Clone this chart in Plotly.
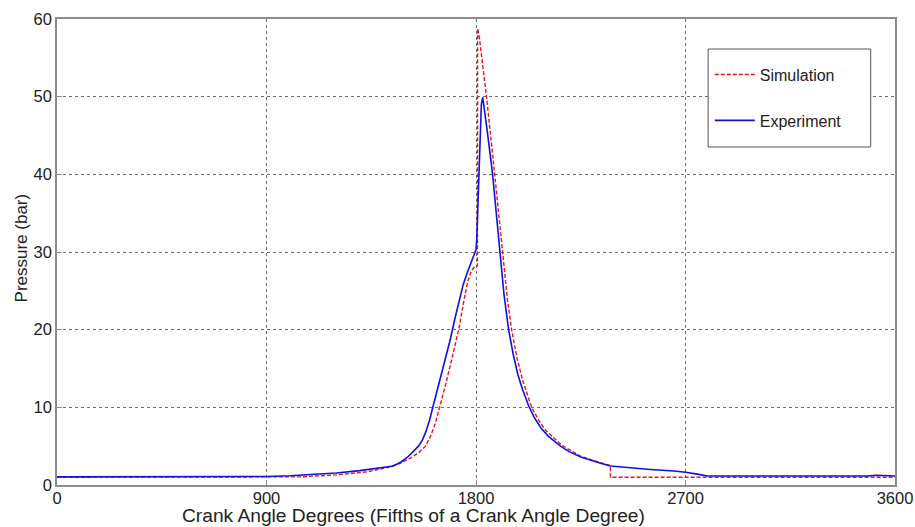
import plotly.graph_objects as go

# Experiment (crank angle in fifths of a degree, pressure in bar)
exp_x = [0, 300, 600, 900, 1000, 1100, 1200, 1300, 1380, 1445, 1480, 1510, 1530, 1553, 1570, 1585,
         1600, 1615, 1630, 1650, 1670, 1690, 1710, 1729, 1745, 1763, 1785, 1800, 1803, 1806, 1811,
         1818, 1823, 1829, 1836, 1849, 1871, 1901, 1920, 1940, 1960, 1980, 2000, 2026, 2050, 2080,
         2110, 2163, 2200, 2250, 2300, 2335, 2378, 2450, 2550, 2650, 2700, 2750, 2795, 3000, 3300,
         3480, 3520, 3560, 3600]
exp_y = [1.05, 1.05, 1.05, 1.1, 1.2, 1.35, 1.55, 1.85, 2.15, 2.45, 3.0, 3.7, 4.3, 5.0, 5.8, 6.9,
         8.3, 10.0, 11.7, 14.0, 16.4, 18.8, 21.5, 23.9, 25.8, 27.4, 29.2, 30.3, 31.5, 34.0, 39.3,
         46.0, 49.0, 49.9, 48.5, 45.4, 40.1, 30.1, 24.6, 20.0, 16.8, 14.2, 12.3, 10.2, 8.7, 7.3,
         6.3, 5.0, 4.3, 3.6, 3.1, 2.8, 2.45, 2.25, 2.0, 1.8, 1.65, 1.4, 1.15, 1.15, 1.15,
         1.15, 1.25, 1.2, 1.15]

# Simulation
sim_x = [0, 300, 600, 900, 1045, 1200, 1333, 1420, 1475, 1520, 1555, 1583, 1605, 1625, 1643, 1670,
         1700, 1729, 1746, 1763, 1780, 1794, 1806, 1807, 1815, 1825, 1845, 1880, 1914, 1935, 1953,
         1975, 2000, 2039, 2070, 2100, 2170, 2250, 2300, 2377, 2378, 2700, 3000, 3300, 3600]
sim_y = [1.0, 1.0, 1.0, 1.0, 1.05, 1.3, 1.7, 2.25, 2.8, 3.5, 4.2, 5.0, 6.3, 7.9, 9.8, 13.0,
         16.7, 20.5, 23.4, 26.0, 27.6, 28.1, 28.2, 58.8, 57.5, 55.0, 50.0, 40.1, 30.1, 23.9, 20.0,
         16.5, 13.5, 10.0, 8.3, 7.0, 5.1, 3.7, 3.2, 2.5, 1.0, 1.0, 1.0, 1.0, 1.0]

x_ticks = [0, 900, 1800, 2700, 3600]
y_ticks = [0, 10, 20, 30, 40, 50, 60]

FONT = "Liberation Sans, Arial, sans-serif"

fig = go.Figure()
fig.add_trace(go.Scatter(x=sim_x, y=sim_y, mode="lines", name="Simulation",
                         legendgroup="a",
                         line=dict(color="#e8141c", width=1.4, dash="4px,2px")))
fig.add_trace(go.Scatter(x=exp_x, y=exp_y, mode="lines", name="Experiment",
                         legendgroup="b",
                         line=dict(color="#1010e0", width=1.6)))

axis_common = dict(
    showline=True, linecolor="#8c8c8c", linewidth=1.5, mirror=True,
    ticks="inside", ticklen=5, tickcolor="#8c8c8c",
    showgrid=True, gridcolor="#6f6f6f", griddash="dot", gridwidth=1,
    zeroline=False, automargin=False,
    tickfont=dict(family=FONT, size=16.5, color="#222"),
)

fig.update_xaxes(range=[0, 3600], tickvals=x_ticks, ticktext=[str(v) for v in x_ticks],
                 ticklabelstandoff=-3, **axis_common)
fig.update_yaxes(range=[0, 60], tickvals=y_ticks, ticktext=[str(v) for v in y_ticks],
                 **axis_common)

# legend box
fig.add_shape(type="rect", xref="paper", yref="paper",
              x0=0.777, x1=0.971, y0=0.7253, y1=0.9356,
              line=dict(color="#555", width=1), fillcolor="white", layer="above")

fig.add_annotation(text="Crank Angle Degrees (Fifths of a Crank Angle Degree)",
                   xref="paper", yref="paper", x=0.4255, y=-0.0665,
                   xanchor="center", yanchor="middle", showarrow=False,
                   font=dict(family=FONT, size=19.2, color="#222"))
fig.add_annotation(text="Pressure (bar)", textangle=-90,
                   xref="paper", yref="paper", x=-0.0418, y=0.5097,
                   xanchor="center", yanchor="middle", showarrow=False,
                   font=dict(family=FONT, size=17, color="#222"))

fig.update_layout(
    width=915, height=527,
    margin=dict(l=57, r=20, t=19, b=42, autoexpand=False),
    plot_bgcolor="white", paper_bgcolor="white",
    legend=dict(x=0.779, y=0.9171, xanchor="left", yanchor="top",
                bgcolor="rgba(0,0,0,0)", borderwidth=0,
                traceorder="grouped", tracegroupgap=22,
                itemwidth=40,
                font=dict(family=FONT, size=16, color="#222")),
)

fig.write_html("out.html")
